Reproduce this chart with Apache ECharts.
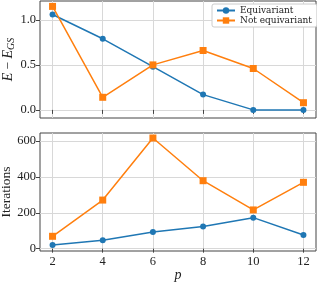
<!DOCTYPE html>
<html><head><meta charset="utf-8">
<script src="https://cdn.jsdelivr.net/npm/echarts@6/dist/echarts.min.js"></script>
<style>html,body{margin:0;padding:0;background:#fff}#c{width:317px;height:283px}</style>
</head><body><div id="c"></div>
<script>
const pValues = [2, 4, 6, 8, 10, 12];
const energyEquivariant = [1.06, 0.79, 0.48, 0.17, 0.0, 0.0];
const energyNotEquivariant = [1.15, 0.14, 0.50, 0.66, 0.46, 0.08];
const iterEquivariant = [21, 47, 93, 123, 173, 76];
const iterNotEquivariant = [69, 271, 617, 379, 216, 370];
const xTicks = [2, 4, 6, 8, 10, 12];
const energyTicks = [0, 0.5, 1.0];
const iterTicks = [0, 200, 400, 600];

const FONT = 'Liberation Serif';
const BLUE = '#1f77b4', ORANGE = '#ff7f0e';
const pairs = (xs, ys) => xs.map((x, i) => [x, ys[i]]);

function xAxisCfg(gi, showLabels) {
  return {
    type: 'value', gridIndex: gi, min: 1.5, max: 12.5,
    axisLine: {show: false},
    axisTick: {show: true, customValues: xTicks, length: 4, inside: false, lineStyle: {color: '#444', width: 1}},
    axisLabel: {show: showLabels, customValues: xTicks, fontFamily: FONT, fontSize: 12.5, color: '#222', margin: 4},
    splitLine: {show: true, lineStyle: {color: '#d8d8d8', width: 1}},
    name: showLabels ? 'p' : '', nameLocation: 'middle', nameGap: 17, nameMoveOverlap: false,
    nameTextStyle: {fontFamily: FONT, fontStyle: 'italic', fontSize: 14, color: '#222'}
  };
}
function yAxisCfg(gi, min, max, ticks, fmt, name, gap, rich) {
  return {
    type: 'value', gridIndex: gi, min: min, max: max,
    axisLine: {show: false},
    axisTick: {show: true, customValues: ticks, length: 4, inside: false, lineStyle: {color: '#444', width: 1}},
    axisLabel: {customValues: ticks, formatter: fmt, fontFamily: FONT, fontSize: 12.5, color: '#222', margin: 4},
    splitLine: {show: true, lineStyle: {color: '#d8d8d8', width: 1}},
    name: name, nameLocation: 'middle', nameGap: gap, nameRotate: 90, nameMoveOverlap: false,
    nameTextStyle: {fontFamily: FONT, fontSize: 13.5, color: '#222', rich: rich}
  };
}

const chart = echarts.init(document.getElementById('c'), null, {renderer: 'canvas'});
chart.setOption({
  animation: false,
  backgroundColor: '#fff',
  grid: [
    {left: 40, right: 1, top: 1, height: 117, show: true, borderColor: '#444', borderWidth: 1, containLabel: false, outerBoundsMode: 'none'},
    {left: 40, right: 1, top: 133, height: 118, show: true, borderColor: '#444', borderWidth: 1, containLabel: false, outerBoundsMode: 'none'}
  ],
  xAxis: [xAxisCfg(0, false), xAxisCfg(1, true)],
  yAxis: [
    yAxisCfg(0, -0.09, 1.21, energyTicks, v => v.toFixed(1), '{i|E} − {i|E}{s|GS}', 24,
      {i: {fontFamily: FONT, fontStyle: 'italic', fontSize: 14, color: '#222'},
       s: {fontFamily: FONT, fontStyle: 'italic', fontSize: 10, color: '#222', padding: [6, 0, 0, 0]}}),
    yAxisCfg(1, -13, 645, iterTicks, v => String(v), 'Iterations', 27, {})
  ],
  legend: {
    data: ['Equivariant', 'Not equivariant'],
    orient: 'vertical', left: 212, top: 4,
    backgroundColor: '#fff', borderColor: '#ccc', borderWidth: 1, borderRadius: 2,
    padding: [2, 5, 2, 4], itemGap: 1, itemWidth: 18, itemHeight: 8,
    textStyle: {fontFamily: 'DejaVu Serif', fontSize: 9, color: '#222'}
  },
  series: [
    {name: 'Equivariant', type: 'line', xAxisIndex: 0, yAxisIndex: 0, data: pairs(pValues, energyEquivariant),
     symbol: 'circle', symbolSize: 6, color: BLUE, lineStyle: {width: 1.5}, z: 3},
    {name: 'Not equivariant', type: 'line', xAxisIndex: 0, yAxisIndex: 0, data: pairs(pValues, energyNotEquivariant),
     symbol: 'rect', symbolSize: 7, color: ORANGE, lineStyle: {width: 1.5}, z: 4},
    {name: 'Equivariant', type: 'line', xAxisIndex: 1, yAxisIndex: 1, data: pairs(pValues, iterEquivariant),
     symbol: 'circle', symbolSize: 6, color: BLUE, lineStyle: {width: 1.5}, z: 3},
    {name: 'Not equivariant', type: 'line', xAxisIndex: 1, yAxisIndex: 1, data: pairs(pValues, iterNotEquivariant),
     symbol: 'rect', symbolSize: 7, color: ORANGE, lineStyle: {width: 1.5}, z: 4}
  ]
});
</script></body></html>
